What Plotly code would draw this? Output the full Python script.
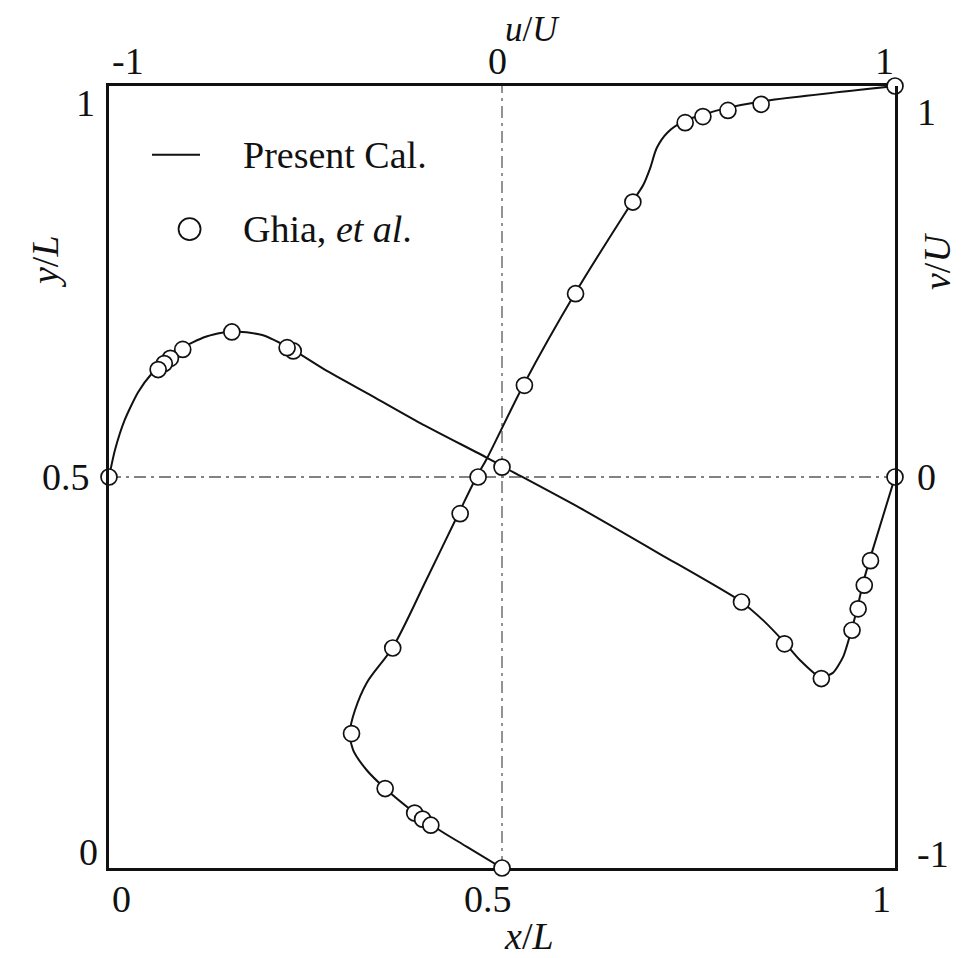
import plotly.graph_objects as go

# ---------------- data ----------------
# Ghia et al. benchmark (Re = 1000)
ghia_y = [1.0000, 0.9766, 0.9688, 0.9609, 0.9531, 0.8516, 0.7344, 0.6172, 0.5000,
          0.4531, 0.2813, 0.1719, 0.1016, 0.0703, 0.0625, 0.0547, 0.0000]
ghia_u = [1.0, 0.65928, 0.57492, 0.51117, 0.46604, 0.33304, 0.18719, 0.05702, -0.06080,
          -0.10648, -0.27805, -0.38289, -0.29730, -0.22220, -0.20196, -0.18109, 0.0]
ghia_x = [1.0000, 0.9688, 0.9609, 0.9531, 0.9453, 0.9063, 0.8594, 0.8047, 0.5000,
          0.2344, 0.2266, 0.1563, 0.0938, 0.0781, 0.0703, 0.0625, 0.0000]
ghia_v = [0.0, -0.21388, -0.27669, -0.33714, -0.39188, -0.51550, -0.42665, -0.31966, 0.02526,
          0.32235, 0.33075, 0.37095, 0.32627, 0.30353, 0.29012, 0.27485, 0.0]

# Present calculation
calc_y = [0.0, 0.027, 0.056, 0.072, 0.102, 0.125, 0.151, 0.174, 0.202, 0.237, 0.283, 0.368,
          0.455, 0.501, 0.524, 0.619, 0.735, 0.853, 0.873, 0.895, 0.921, 0.940, 0.955,
          0.963, 0.972, 0.980, 1.0]
calc_u = [0.0, -0.089, -0.183, -0.226, -0.298, -0.344, -0.379, -0.387, -0.374, -0.344, -0.277, -0.193,
          -0.109, -0.064, -0.038, 0.056, 0.186, 0.333, 0.359, 0.377, 0.394, 0.420, 0.463,
          0.509, 0.573, 0.656, 1.0]
calc_x = [0.0, 0.0076, 0.020, 0.037, 0.055, 0.0687, 0.093, 0.122, 0.155, 0.195, 0.234, 0.275,
          0.335, 0.396, 0.481, 0.500, 0.599, 0.701, 0.803, 0.832, 0.859, 0.879, 0.905, 0.921,
          0.934, 0.945, 0.952, 0.959, 0.968, 1.0]
calc_v = [0.0, 0.069, 0.146, 0.217, 0.266, 0.292, 0.330, 0.358, 0.373, 0.363, 0.325, 0.274,
          0.207, 0.138, 0.049, 0.028, -0.079, -0.197, -0.317, -0.366, -0.422, -0.468, -0.512, -0.501,
          -0.460, -0.389, -0.335, -0.274, -0.210, 0.0]

# tick labels
bottom_ticks = [0, 0.5, 1]
bottom_labels = ["0", "0.5", "1"]
top_ticks = [-1, 0, 1]
top_labels = ["-1", "0", "1"]
left_ticks = [0, 0.5, 1]
left_labels = ["0", "0.5", "1"]
right_ticks = [-1, 0, 1]
right_labels = ["-1", "0", "1"]

# ---------------- style ----------------
FONT = "Liberation Serif"
FS = 38
BLACK = "#111111"

fig = go.Figure()

line_u = dict(color=BLACK, width=2, shape="spline", smoothing=0.85)
line_v = dict(color=BLACK, width=2, shape="spline", smoothing=0.6)
marker_style = dict(symbol="circle", size=16, color="white", line=dict(color=BLACK, width=1.7))

# u/U along vertical centreline (top axis u, left axis y)
fig.add_trace(go.Scatter(x=calc_u, y=calc_y, xaxis="x2", yaxis="y", mode="lines",
                         line=line_u, showlegend=False, cliponaxis=False))
# v/U along horizontal centreline (bottom axis x, right axis v)
fig.add_trace(go.Scatter(x=calc_x, y=calc_v, xaxis="x", yaxis="y2", mode="lines",
                         line=line_v, showlegend=False, cliponaxis=False))
fig.add_trace(go.Scatter(x=ghia_u, y=ghia_y, xaxis="x2", yaxis="y", mode="markers",
                         marker=marker_style, showlegend=False, cliponaxis=False))
fig.add_trace(go.Scatter(x=ghia_x, y=ghia_v, xaxis="x", yaxis="y2", mode="markers",
                         marker=marker_style, showlegend=False, cliponaxis=False))

ax_common = dict(showgrid=False, zeroline=False, ticks="", showticklabels=False)

# page body has an 8px default margin -> figure is 8px smaller than the window
fig.update_layout(
    width=972, height=950,
    margin=dict(l=101, r=85, t=78, b=90),
    paper_bgcolor="white", plot_bgcolor="rgba(0,0,0,0)",
    font=dict(family=FONT, size=FS, color=BLACK),
    xaxis=dict(range=[0, 1], showline=True, mirror=True, linecolor=BLACK, linewidth=2.5, **ax_common),
    yaxis=dict(range=[0, 1], showline=True, mirror=True, linecolor=BLACK, linewidth=2.5, **ax_common),
    xaxis2=dict(range=[-1, 1], overlaying="x", side="top", showline=False, **ax_common),
    yaxis2=dict(range=[-1, 1], overlaying="y", side="right", showline=False, **ax_common),
)

# centre dash-dot lines
dd = dict(color="#5a5a5a", width=1.3, dash="12px,5px,3px,5px")
fig.add_shape(type="line", xref="x", yref="y", x0=0.5, x1=0.5, y0=0, y1=1, line=dd, layer="below")
fig.add_shape(type="line", xref="x", yref="y", x0=0, x1=1, y0=0.5, y1=0.5, line=dd, layer="below")

ann = []
# tick labels
top_shift = [19, -5, -11]
for v, t, s in zip(top_ticks, top_labels, top_shift):
    ann.append(dict(x=v, y=1, xref="x2", yref="paper", text=t, showarrow=False,
                    xanchor="center", yanchor="middle", xshift=s, yshift=25))
bottom_shift = [12, -14, -14]
for v, t, s in zip(bottom_ticks, bottom_labels, bottom_shift):
    ann.append(dict(x=v, y=0, xref="x", yref="paper", text=t, showarrow=False,
                    xanchor="center", yanchor="middle", xshift=s, yshift=-31))
left_xshift = [-9, -17, -12]
left_yshift = [16, 0, -17]
for v, t, sx, sy in zip(left_ticks, left_labels, left_xshift, left_yshift):
    ann.append(dict(x=0, y=v, xref="paper", yref="y", text=t, showarrow=False,
                    xanchor="right", yanchor="middle", xshift=sx, yshift=sy))
right_shift = [14, 0, -26]
for v, t, s in zip(right_ticks, right_labels, right_shift):
    ann.append(dict(x=1, y=v, xref="paper", yref="y2", text=t, showarrow=False,
                    xanchor="left", yanchor="middle", xshift=20, yshift=s))

# axis titles
ann += [
    dict(x=0.5, y=1, xref="paper", yref="paper", text="<i>u</i>/<i>U</i>", showarrow=False,
         xanchor="center", yanchor="middle", xshift=30, yshift=57, font=dict(size=35)),
    dict(x=0.5, y=0, xref="paper", yref="paper", text="<i>x</i>/<i>L</i>", showarrow=False,
         xanchor="center", yanchor="middle", xshift=27, yshift=-68),
    dict(x=0, y=0.5, xref="paper", yref="paper", text="<i>y</i>/<i>L</i>", showarrow=False,
         textangle=-90, xanchor="center", yanchor="middle", xshift=-64, yshift=215),
    dict(x=1, y=0.5, xref="paper", yref="paper", text="<i>v</i>/<i>U</i>", showarrow=False,
         textangle=-90, xanchor="center", yanchor="middle", xshift=42, yshift=215),
]

# legend (manual)
fig.add_shape(type="line", xref="paper", yref="paper", x0=0.0547, x1=0.1158, y0=0.912, y1=0.912,
              line=dict(color=BLACK, width=2))
fig.add_shape(type="circle", xref="paper", yref="paper", xsizemode="pixel", ysizemode="pixel",
              xanchor=0.1025, yanchor=0.817, x0=-11, x1=11, y0=-11, y1=11,
              line=dict(color=BLACK, width=1.8), fillcolor="white")
ann += [
    dict(x=0.168, y=0.912, xref="paper", yref="paper", text="Present Cal.", showarrow=False,
         xanchor="left", yanchor="middle"),
    dict(x=0.168, y=0.817, xref="paper", yref="paper", text="Ghia, <i>et al</i>.", showarrow=False,
         xanchor="left", yanchor="middle"),
]
fig.update_layout(annotations=ann)

fig.write_html("out.html")
